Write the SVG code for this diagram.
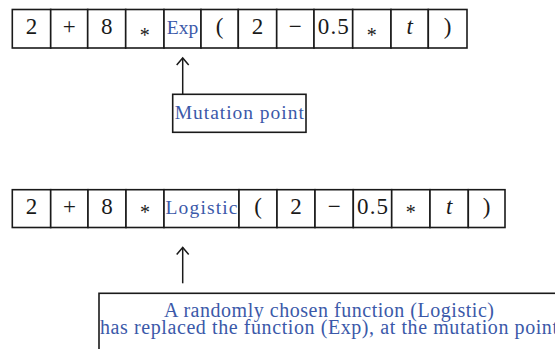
<svg xmlns="http://www.w3.org/2000/svg" width="555" height="349" viewBox="0 0 555 349">
  <style>
    .cell { fill: #ffffff; stroke: #1a1a1a; stroke-width: 1.6; }
    .box { fill: #ffffff; stroke: #1a1a1a; stroke-width: 1.6; }
    .sym { font-family: "Liberation Serif", "Times New Roman", serif; font-size: 23px; fill: #1a1a1a; text-anchor: middle; }
    .star { font-family: "Liberation Serif", "Times New Roman", serif; font-size: 20px; fill: #1a1a1a; text-anchor: middle; }
    .fn { font-family: "Liberation Serif", "Times New Roman", serif; font-size: 19.5px; fill: #3b59a9; text-anchor: middle; }
    .note { font-family: "Liberation Serif", "Times New Roman", serif; font-size: 20px; fill: #3b59a9; text-anchor: middle; }
    .arrow { fill: none; stroke: #1a1a1a; stroke-width: 1.5; }
  </style>

  <!-- original expression: 2 + 8 * Exp(2 - 0.5 * t) -->
  <g id="expr-original">
    <rect class="cell" x="12.3" y="9.5" width="38.4" height="38.5"/>
    <rect class="cell" x="50.7" y="9.5" width="37" height="38.5"/>
    <rect class="cell" x="87.7" y="9.5" width="38" height="38.5"/>
    <rect class="cell" x="125.7" y="9.5" width="38.3" height="38.5"/>
    <rect class="cell" x="164" y="9.5" width="37" height="38.5"/>
    <rect class="cell" x="201" y="9.5" width="37.3" height="38.5"/>
    <rect class="cell" x="238.3" y="9.5" width="38.4" height="38.5"/>
    <rect class="cell" x="276.7" y="9.5" width="37.3" height="38.5"/>
    <rect class="cell" x="314" y="9.5" width="38.7" height="38.5"/>
    <rect class="cell" x="352.7" y="9.5" width="38.3" height="38.5"/>
    <rect class="cell" x="391" y="9.5" width="37.3" height="38.5"/>
    <rect class="cell" x="428.3" y="9.5" width="38.7" height="38.5"/>
    <text class="sym" x="31.5" y="34.3">2</text>
    <text class="sym" x="69.2" y="34.3">+</text>
    <text class="sym" x="106.7" y="34.3">8</text>
    <text class="star" x="144.8" y="42">*</text>
    <text class="fn" x="182.5" y="34.3">Exp</text>
    <text class="sym" x="219.6" y="34.3">(</text>
    <text class="sym" x="257.5" y="34.3">2</text>
    <text class="sym" x="295.3" y="34.3">−</text>
    <text class="sym" x="333.3" y="34.3" textLength="31">0.5</text>
    <text class="star" x="371.8" y="42">*</text>
    <text class="sym" x="409.6" y="34.3" font-style="italic">t</text>
    <text class="sym" x="447.6" y="34.3">)</text>
  </g>

  <!-- mutated expression: 2 + 8 * Logistic(2 - 0.5 * t) -->
  <g id="expr-mutated">
    <rect class="cell" x="12.3" y="189.7" width="38.4" height="37.8"/>
    <rect class="cell" x="50.7" y="189.7" width="37.3" height="37.8"/>
    <rect class="cell" x="88" y="189.7" width="38" height="37.8"/>
    <rect class="cell" x="126" y="189.7" width="38" height="37.8"/>
    <rect class="cell" x="164" y="189.7" width="75" height="37.8"/>
    <rect class="cell" x="239" y="189.7" width="38" height="37.8"/>
    <rect class="cell" x="277" y="189.7" width="38" height="37.8"/>
    <rect class="cell" x="315" y="189.7" width="38.3" height="37.8"/>
    <rect class="cell" x="353.3" y="189.7" width="38.4" height="37.8"/>
    <rect class="cell" x="391.7" y="189.7" width="38.3" height="37.8"/>
    <rect class="cell" x="430" y="189.7" width="38.3" height="37.8"/>
    <rect class="cell" x="468.3" y="189.7" width="36.7" height="37.8"/>
    <text class="sym" x="31.5" y="214">2</text>
    <text class="sym" x="69.4" y="214">+</text>
    <text class="sym" x="107" y="214">8</text>
    <text class="star" x="145" y="219">*</text>
    <text class="fn" x="201.5" y="214" textLength="72">Logistic</text>
    <text class="sym" x="258" y="214">(</text>
    <text class="sym" x="296" y="214">2</text>
    <text class="sym" x="334.2" y="214">−</text>
    <text class="sym" x="372.5" y="214" textLength="31">0.5</text>
    <text class="star" x="410.8" y="219">*</text>
    <text class="sym" x="449.2" y="214" font-style="italic">t</text>
    <text class="sym" x="486.7" y="214">)</text>
  </g>

  <!-- label boxes -->
  <g id="label-mutation-point">
    <rect class="box" x="172.7" y="94.3" width="133.3" height="38"/>
    <text class="fn" x="239.3" y="118.5" textLength="129">Mutation point</text>
  </g>

  <g id="label-replacement">
    <rect class="box" x="99" y="293.3" width="462" height="70"/>
    <text class="note" x="329" y="317.3" textLength="330">A randomly chosen function (Logistic)</text>
    <text class="note" x="329" y="334.3" textLength="458">has replaced the function (Exp), at the mutation point</text>
  </g>

  <!-- pointer arrows -->
  <g id="connectors">
    <path class="arrow" d="M182.7 94.3 V58"/>
    <path class="arrow" d="M176.7 65 L182.7 58 L188.7 65"/>
    <path class="arrow" d="M182.7 283.3 V247.5"/>
    <path class="arrow" d="M176.7 254.5 L182.7 247.5 L188.7 254.5"/>
  </g>
</svg>
